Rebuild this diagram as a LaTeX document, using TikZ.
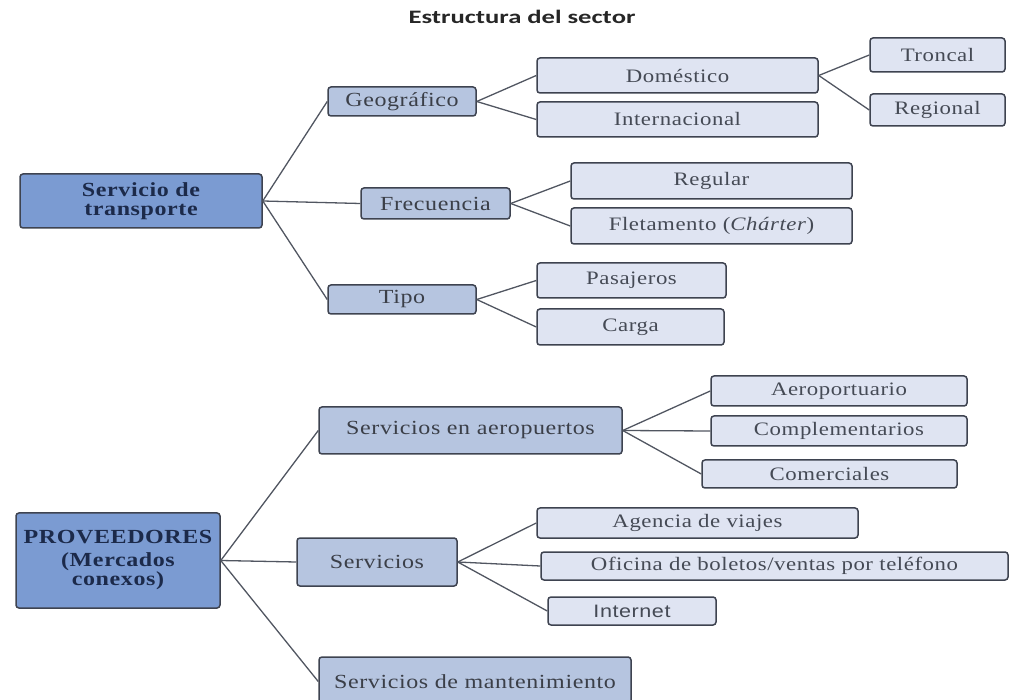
\documentclass[tikz,border=0pt]{standalone}
\usepackage{fontspec}
\setmainfont{Liberation Serif}[FakeStretch=1.2,LetterSpace=3]
\newfontfamily\titlefont{Carlito}[FakeStretch=1.4]
\newfontfamily\netfont{Liberation Sans}[FakeStretch=1.2,LetterSpace=3]
\definecolor{hubblue}{HTML}{7B9BD2}
\definecolor{midblue}{HTML}{B6C5E0}
\definecolor{leafblue}{HTML}{DFE4F2}
\definecolor{edgegrey}{HTML}{3E4350}
\definecolor{hubtext}{HTML}{1C2A4A}
\definecolor{leaftext}{HTML}{454A55}

\begin{document}
\begin{tikzpicture}[x=1pt,y=-1pt,
    box/.style={draw=edgegrey,line width=1.5pt,rounded corners=3pt,inner sep=0pt,align=center},
    hub/.style={box,fill=hubblue,text=hubtext,font=\fontsize{20}{20}\selectfont\bfseries},
    mid/.style={box,fill=midblue,text=leaftext!85!black,font=\fontsize{20}{20}\selectfont},
    leaf/.style={box,fill=leafblue,text=leaftext,font=\fontsize{19}{20}\selectfont},
    sz/.style 2 args={minimum width=#1pt,minimum height=#2pt},
    link/.style={draw=edgegrey!90,line width=1.3pt}]
    \useasboundingbox (0,0) rectangle (1010,700);
    \clip (0,0) rectangle (1010,700);
    \node[font=\titlefont\fontsize{19}{21}\selectfont\bfseries,text=black!85] (title) at (522,17){Estructura del sector};
    % transport
    \node[hub,sz={242}{54}] (trans) at (141,201){Servicio de\\[-1pt]transporte};
    \node[mid,sz={148}{29}] (geo) at (402,101.5){Geográfico};
    \node[mid,sz={149}{31}] (frec) at (435.5,203.5){Frecuencia};
    \node[mid,sz={148}{29}] (tipo) at (402,299.5){Tipo};
    \node[leaf,sz={281}{35}] (dom) at (677.5,75.5){Doméstico};
    \node[leaf,sz={281}{35}] (inter) at (677.5,119.5){Internacional};
    \node[leaf,sz={135}{34}] (tron) at (937.5,55){Troncal};
    \node[leaf,sz={135}{32}] (reg) at (937.5,110){Regional};
    \node[leaf,sz={281}{36}] (regu) at (711.5,181){Regular};
    \node[leaf,sz={281}{36}] (flet) at (711.5,226){Fletamento (\textit{Chárter})};
    \node[leaf,sz={189}{35}] (pas) at (631.5,280.5){Pasajeros};
    \node[leaf,sz={187}{36}] (carga) at (630.5,327){Carga};
    % suppliers
    \node[hub,sz={204}{95}] (prov) at (118,560.5){PROVEEDORES\\[3pt](Mercados\\[-1pt]conexos)};
    \node[mid,sz={303}{47}] (sea) at (470.5,430.5){Servicios en aeropuertos};
    \node[mid,sz={160}{48}] (serv) at (377,562){Servicios};
    \node[mid,sz={312}{49}] (sdm) at (475,681.5){Servicios de mantenimiento};
    \node[leaf,sz={256}{30}] (aero) at (839,391){Aeroportuario};
    \node[leaf,sz={256}{30}] (comp) at (839,431){Complementarios};
    \node[leaf,sz={255}{28}] (come) at (829.5,474){Comerciales};
    \node[leaf,sz={321}{30}] (agen) at (697.5,523){Agencia de viajes};
    \node[leaf,sz={467}{28}] (ofi) at (774.5,566){Oficina de boletos/ventas por teléfono};
    \node[leaf,sz={168}{28},font=\netfont\fontsize{18}{20}\selectfont] (inet) at (632,611){Internet};
    % connectors
    \foreach \a/\b in {trans/geo,trans/frec,trans/tipo,geo/dom,geo/inter,dom/tron,dom/reg,
        frec/regu,frec/flet,tipo/pas,tipo/carga,prov/sea,prov/serv,prov/sdm,
        sea/aero,sea/comp,sea/come,serv/agen,serv/ofi,serv/inet}
      \draw[link] (\a.east) -- (\b.west);
  \end{tikzpicture}
\end{document}
